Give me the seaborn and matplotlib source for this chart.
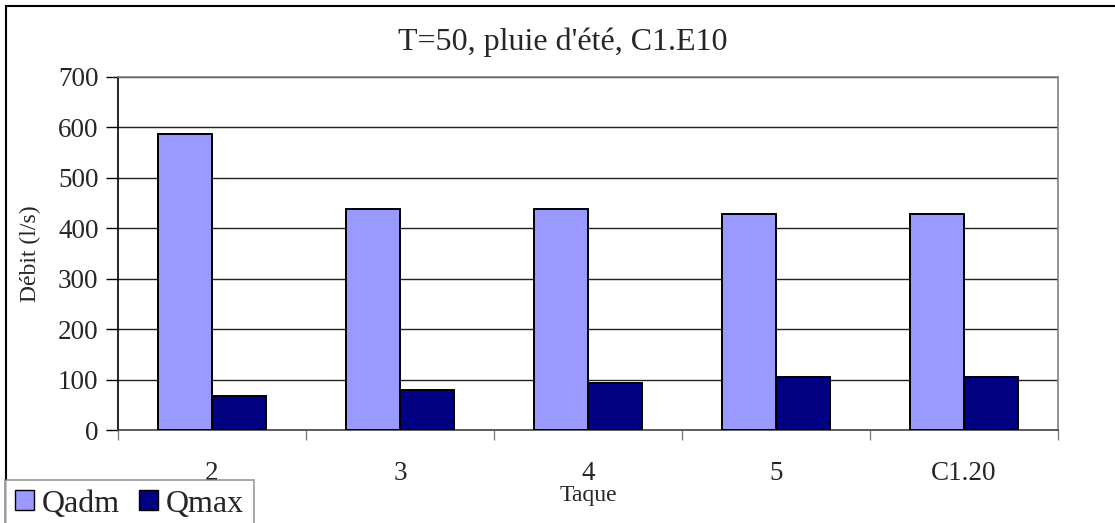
import pandas as pd
import matplotlib.pyplot as plt
import seaborn as sns
from matplotlib.patches import Rectangle

# données
taques = ['2', '3', '4', '5', 'C1.20']
qadm = [587, 438, 439, 428, 428]
qmax = [67, 79, 94, 106, 106]
series = ['Qadm', 'Qmax']
couleurs = ['#9999FF', '#000080']

df = pd.DataFrame({
    'Taque': taques * 2,
    'Debit': qadm + qmax,
    'Serie': ['Qadm'] * len(taques) + ['Qmax'] * len(taques),
})

sns.set_style('white')
plt.rcParams['font.family'] = ['Liberation Serif', 'DejaVu Serif']

fig = plt.figure(figsize=(11.15, 5.23), dpi=100)
ax = fig.add_axes([118 / 1115, 1 - 430 / 523, (1058 - 118) / 1115, (430 - 77) / 523])

sns.barplot(data=df, x='Taque', y='Debit', hue='Serie', order=taques,
            hue_order=series, palette=couleurs, width=0.574, saturation=1,
            edgecolor='black', linewidth=1.4, ax=ax, zorder=3)

ax.set_ylim(0, 700)
ax.set_xlim(-0.5, len(taques) - 0.5)
ax.set_yticks(range(0, 701, 100))
ax.yaxis.grid(True, color='#222222', linewidth=1, zorder=0)
ax.set_axisbelow(True)

# ticks x aux limites des groupes
ax.set_xticks([i - 0.5 for i in range(len(taques) + 1)], minor=True)
ax.tick_params(axis='x', which='minor', length=7, width=1, color='#808080', direction='out', bottom=True)
ax.tick_params(axis='x', which='major', length=0, pad=22, labelsize=19.5)
ax.tick_params(axis='y', length=9, width=1, color='black', direction='out', left=True, labelsize=19.5, pad=5)

for s in ['top', 'right', 'bottom']:
    ax.spines[s].set_color('#808080')
    ax.spines[s].set_linewidth(1.2)
ax.spines['bottom'].set_color('#444444')
ax.spines['left'].set_color('black')
ax.spines['left'].set_linewidth(1.2)

ax.set_xlabel('')
ax.set_ylabel('')
ax.get_legend().remove()

fig.text(0.505, 1 - 42 / 523, "T=50, pluie d'été, C1.E10", ha='center', va='center', fontsize=23)
fig.text(30 / 1115, 1 - 254 / 523, 'Débit (l/s)', rotation=90, ha='center', va='center', fontsize=17)
fig.text(588 / 1115, 1 - 496 / 523, 'Taque', ha='center', va='center', fontsize=17)

# cadre du graphique
fig.patches.append(Rectangle((5.5 / 1115, -0.1), 1.2, 1 - 5.5 / 523 + 0.1,
                             transform=fig.transFigure, fill=False,
                             edgecolor='black', linewidth=1.5))

handles = [Rectangle((0, 0), 1, 1, facecolor=c, edgecolor='black', linewidth=1) for c in couleurs]
leg = fig.legend(handles, series, loc='upper left', bbox_to_anchor=(5 / 1115, 1 - 480 / 523),
                 ncol=2, fontsize=23, frameon=True, fancybox=False, handlelength=0.6,
                 handleheight=0.6, handletextpad=0.25, columnspacing=0.6,
                 borderpad=0.3, borderaxespad=0)
leg.get_frame().set_edgecolor('#808080')
leg.get_frame().set_linewidth(1.2)

fig.savefig('out.png', dpi=100)
